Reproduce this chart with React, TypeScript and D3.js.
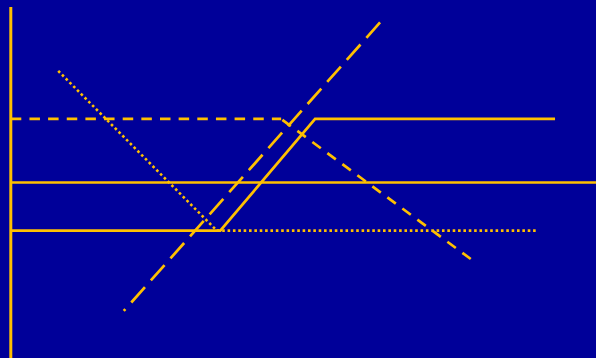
import React from "react";
import * as d3 from "d3";

type Pt = [number, number];

// Axis extent (data units)
const axisLine: Pt[] = [[0, 0], [0, 10]];
// Horizontal reference line
const refLine: Pt[] = [[0, 5.0], [10, 5.0]];
// Solid kinked line
const solidLine: Pt[] = [[0, 3.63], [3.58, 3.63], [5.2, 6.81], [9.3, 6.81]];
// Short-dashed line: flat part and falling part
const dashedFlat: Pt[] = [[0, 6.81], [4.62, 6.81]];
const dashedFall: Pt[] = [[4.62, 6.81], [7.86, 2.82]];
// Long-dashed rising line (drawn from the top)
const longDashLine: Pt[] = [[6.31, 9.56], [1.93, 1.34]];
// Dotted line
const dottedLine: Pt[] = [[0.81, 8.18], [3.52, 3.63], [8.98, 3.63]];

const W = 596;
const H = 358;
const BG = "#000099";
const GOLD = "#FFC000";

export default function App() {
  const x = d3.scaleLinear().domain([0, 10]).range([10.8, 596]);
  const y = d3.scaleLinear().domain([0, 10]).range([358, 7]);
  const line = d3
    .line<Pt>()
    .x((d) => x(d[0]))
    .y((d) => y(d[1]));

  const common = {
    fill: "none",
    stroke: GOLD,
    strokeLinecap: "butt" as const,
    strokeLinejoin: "miter" as const,
  };

  return (
    <svg
      width={W}
      height={H}
      style={{ position: "fixed", left: 0, top: 0, display: "block" }}
    >
      <rect x={0} y={0} width={W} height={H} fill={BG} />
      <path d={line(refLine) || ""} {...common} strokeWidth={2.7} />
      <path d={line(solidLine) || ""} {...common} strokeWidth={2.7} />
      <path
        d={line(dashedFlat) || ""}
        {...common}
        strokeWidth={2.7}
        strokeDasharray="10.5 8.15"
      />
      <path
        d={line(dashedFall) || ""}
        {...common}
        strokeWidth={2.7}
        strokeDasharray="10.5 8.15"
        strokeDashoffset={-1.5}
      />
      <path
        d={line(longDashLine) || ""}
        {...common}
        strokeWidth={2.7}
        strokeDasharray="20.6 8.9"
      />
      <path
        d={line(dottedLine) || ""}
        {...common}
        strokeWidth={2.6}
        strokeDasharray="2.6 2.76"
      />
      <path d={line(axisLine) || ""} {...common} strokeWidth={3} />
    </svg>
  );
}
